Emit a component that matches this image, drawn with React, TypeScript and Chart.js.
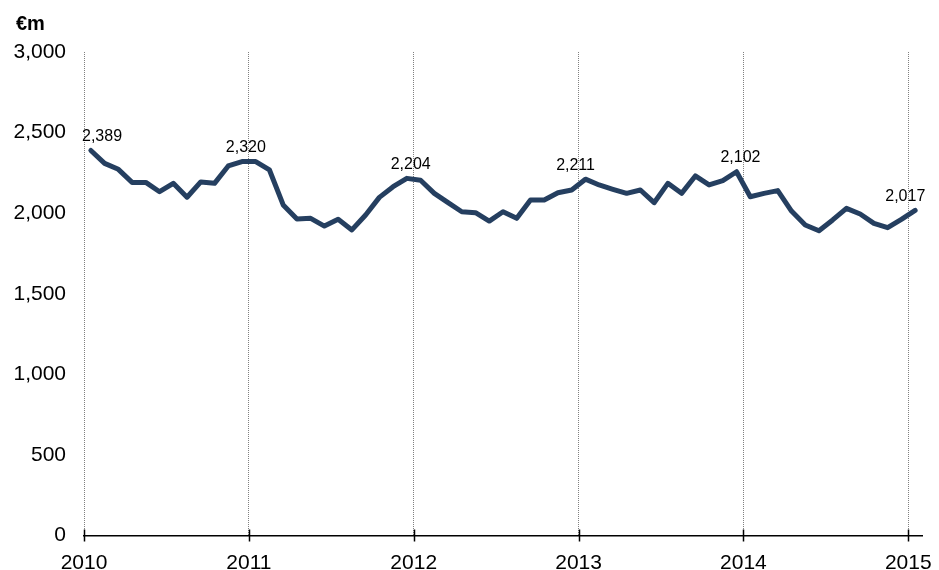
import React, { useEffect, useRef } from 'react';
import { Chart, registerables } from 'chart.js';

Chart.register(...registerables);

// Year tick labels
const years = ['2010', '2011', '2012', '2013', '2014', '2015'];

// Monthly values (€m), January to December of each year
const v2010 = [2389, 2309, 2272, 2191, 2191, 2133, 2185, 2099, 2194, 2185, 2293, 2320];
const v2011 = [2320, 2268, 2051, 1964, 1968, 1920, 1962, 1896, 1989, 2098, 2164, 2216];
const v2012 = [2204, 2123, 2065, 2009, 2003, 1951, 2009, 1968, 2082, 2082, 2127, 2144];
const v2013 = [2211, 2175, 2148, 2123, 2144, 2065, 2185, 2123, 2231, 2175, 2202, 2257];
const v2014 = [2102, 2123, 2140, 2013, 1927, 1891, 1958, 2030, 1995, 1937, 1910, 1962];
const v2015 = [2017];

const yMin = 0;
const yMax = 3000;
const yStep = 500;
const unitLabel = '€m';

const monthly = [...v2010, ...v2011, ...v2012, ...v2013, ...v2014, ...v2015];

const FONT = '"Liberation Sans", Arial, sans-serif';

const fmt = (v: number) => v.toLocaleString('en-US');

const overlayPlugin = {
  id: 'overlay',
  afterDraw(chart: any) {
    const { ctx, scales } = chart;
    const x = scales.x;
    const y = scales.y;
    ctx.save();
    // year tick marks crossing the axis
    const axisY = y.getPixelForValue(0);
    ctx.strokeStyle = '#000';
    ctx.lineWidth = 1.5;
    years.forEach((_, k) => {
      const px = Math.round(x.getPixelForValue(12 * k)) + 0.5;
      ctx.beginPath();
      ctx.moveTo(px, axisY - 6);
      ctx.lineTo(px, axisY + 6);
      ctx.stroke();
    });
    // January value labels
    ctx.font = `16px ${FONT}`;
    ctx.fillStyle = '#000';
    ctx.textBaseline = 'middle';
    years.forEach((_, k) => {
      const i = 12 * k;
      const v = monthly[i];
      const prev = i > 0 ? monthly[i - 1] : v;
      const top = Math.min(y.getPixelForValue(v), y.getPixelForValue(prev));
      const gx = x.getPixelForValue(12 * k);
      if (k === 0) {
        ctx.textAlign = 'left';
        ctx.fillText(fmt(v), gx - 2, top - 14);
      } else {
        ctx.textAlign = 'center';
        ctx.fillText(fmt(v), gx - 3, top - 14);
      }
    });
    // unit label
    ctx.font = `bold 20px ${FONT}`;
    ctx.textAlign = 'left';
    ctx.textBaseline = 'alphabetic';
    ctx.fillText(unitLabel, 16, 30);
    ctx.restore();
  },
};

export default function App() {
  const ref = useRef<HTMLCanvasElement | null>(null);

  useEffect(() => {
    if (!ref.current) return;
    const points = monthly.map((v, i) => ({ x: i + 0.5, y: v }));
    const chart = new Chart(ref.current, {
      type: 'line',
      data: {
        datasets: [
          {
            data: points,
            borderColor: '#253f60',
            borderWidth: 5,
            pointRadius: 0,
            borderJoinStyle: 'round',
            borderCapStyle: 'round',
            tension: 0,
            fill: false,
          },
        ],
      },
      options: {
        animation: false,
        responsive: false,
        devicePixelRatio: 1,
        layout: { padding: { top: 52, right: 17, bottom: 0, left: 0 } },
        plugins: {
          legend: { display: false },
          tooltip: { enabled: false },
          title: { display: false },
        },
        scales: {
          x: {
            type: 'linear',
            min: 0,
            max: 61,
            afterBuildTicks: (scale: any) => {
              scale.ticks = years.map((_, k) => ({ value: 12 * k }));
            },
            afterFit: (scale: any) => {
              scale.height = 34.5;
              scale.paddingLeft = 0;
              scale.paddingRight = 0;
            },
            ticks: {
              autoSkip: false,
              maxRotation: 0,
              padding: 15,
              color: '#000',
              font: { family: FONT, size: 21 },
              callback: (val: any) => years[Math.round(Number(val) / 12)] ?? '',
            },
            grid: {
              display: true,
              drawOnChartArea: true,
              drawTicks: false,
              color: '#808080',
              lineWidth: 1,
            },
            border: { display: true, color: '#000', width: 1.5, dash: [1, 1] },
          },
          y: {
            min: yMin,
            max: yMax,
            afterFit: (scale: any) => {
              scale.width = 84;
              scale.paddingTop = 0;
              scale.paddingBottom = 0;
            },
            ticks: {
              stepSize: yStep,
              padding: 18,
              color: '#000',
              font: { family: FONT, size: 21 },
              callback: (val: any) => fmt(Number(val)),
            },
            grid: { display: false, drawTicks: false },
            border: { display: false },
          },
        },
      },
      plugins: [overlayPlugin],
    } as any);
    return () => chart.destroy();
  }, []);

  return (
    <div style={{ position: 'absolute', left: 0, top: 0, width: 939, height: 570, background: '#fff' }}>
      <canvas ref={ref} width={939} height={570} style={{ width: 939, height: 570 }} />
    </div>
  );
}
